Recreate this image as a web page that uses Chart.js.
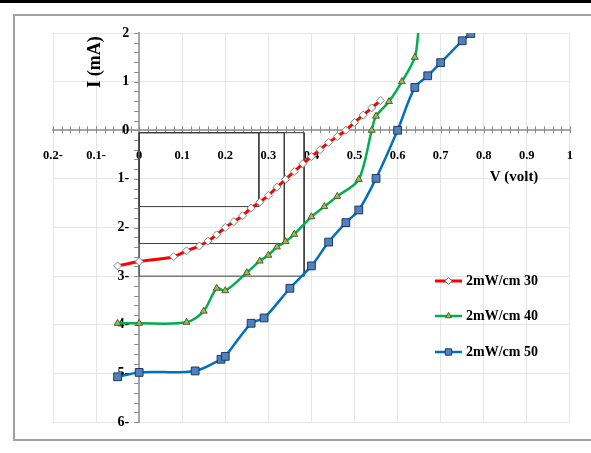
<!DOCTYPE html>
<html>
<head>
<meta charset="utf-8">
<script src="https://cdn.jsdelivr.net/npm/chart.js@4.4.0/dist/chart.umd.min.js"></script>
<style>
  html, body { margin: 0; padding: 0; background: #fff; }
  #wrap { position: relative; width: 591px; height: 453px; overflow: hidden; }
  #topRule { position: absolute; left: 0; top: 0; width: 591px; height: 3px; background: #000; }
  #frame { position: absolute; left: 13px; top: 14px; width: 640px; height: 423px; border: 2px solid #a0a0a0; }
  canvas { position: absolute; left: 0; top: 0; }
</style>
</head>
<body>
<div id="wrap">
  <div id="topRule"></div>
  <div id="frame"></div>
  <canvas id="ivChart" width="591" height="453"></canvas>
</div>
<script>
// I-V curves of the cell under three illumination levels
const v30 = [-0.05, 0, 0.08, 0.11, 0.14, 0.16, 0.18, 0.20, 0.22, 0.24, 0.26, 0.28, 0.30, 0.32, 0.34, 0.36, 0.38, 0.40, 0.42, 0.44, 0.46, 0.48, 0.50, 0.52, 0.54, 0.56];
const i30 = [-2.79, -2.70, -2.60, -2.48, -2.38, -2.28, -2.15, -2.00, -1.88, -1.76, -1.60, -1.48, -1.34, -1.17, -1.01, -0.85, -0.69, -0.54, -0.40, -0.25, -0.13, 0.0, 0.16, 0.31, 0.46, 0.61];

const v40 = [-0.05, 0, 0.11, 0.15, 0.18, 0.20, 0.25, 0.28, 0.30, 0.32, 0.34, 0.36, 0.40, 0.43, 0.46, 0.51, 0.54, 0.55, 0.58, 0.61, 0.64, 0.648];
const i40 = [-3.97, -3.97, -3.95, -3.72, -3.25, -3.30, -2.93, -2.69, -2.57, -2.40, -2.29, -2.14, -1.78, -1.57, -1.36, -1.01, 0.0, 0.29, 0.59, 1.0, 1.5, 2.0];

const v50 = [-0.05, 0, 0.13, 0.19, 0.20, 0.26, 0.29, 0.35, 0.40, 0.44, 0.48, 0.51, 0.55, 0.60, 0.64, 0.67, 0.70, 0.75, 0.77];
const i50 = [-5.07, -4.98, -4.95, -4.71, -4.65, -3.97, -3.86, -3.25, -2.79, -2.30, -1.90, -1.64, -0.99, 0.0, 0.88, 1.12, 1.39, 1.84, 1.99];

const seriesLabels = ['2mW/cm 30', '2mW/cm 40', '2mW/cm 50'];

// maximum power rectangles: corner at (Vm, Im)
const rectV = [0.278, 0.337, 0.383];
const rectI = [-1.57, -2.33, -3.0];
const rectTop = -0.05;

const xTickLabels = ['0.2-', '0.1-', '0', '0.1', '0.2', '0.3', '0.4', '0.5', '0.6', '0.7', '0.8', '0.9', '1'];
const yTickLabels = ['6-', '5-', '4-', '3-', '2-', '1-', '0', '1', '2'];

const serif = "'Liberation Serif', 'Times New Roman', serif";

function toPoints(vs, is) {
    return vs.map((v, k) => ({ x: v, y: is[k] }));
}

const curveStyles = [
    { color: '#ff0000', width: 3, pointStyle: 'rectRot', radius: 4, fill: '#ffffff', border: '#808080', legendRadius: 3.5 },
    { color: '#00b050', width: 2.5, pointStyle: 'triangle', radius: 4, fill: '#9bbb59', border: '#4e6128', legendRadius: 3.5 },
    { color: '#0070c0', width: 2.5, pointStyle: 'rect', radius: 5.5, fill: '#4f81bd', border: '#1f3864', legendRadius: 4.5 }
];

const curveData = [toPoints(v30, i30), toPoints(v40, i40), toPoints(v50, i50)];

const datasets = curveData.map((pts, k) => {
    const s = curveStyles[k];
    return {
        label: seriesLabels[k],
        data: pts,
        showLine: true,
        borderColor: s.color,
        borderWidth: s.width,
        tension: 0.3,
        pointStyle: s.pointStyle,
        pointRadius: ctx => (k === 1 && ctx.dataIndex === pts.length - 1) ? 0 : s.radius,
        pointBackgroundColor: s.fill,
        pointBorderColor: s.border,
        pointBorderWidth: 1,
        order: 1
    };
});

rectV.forEach((vm, k) => {
    datasets.push({
        label: 'rect' + k,
        data: [
            { x: 0, y: rectTop }, { x: vm, y: rectTop }, { x: vm, y: rectI[k] },
            { x: 0, y: rectI[k] }, { x: 0, y: rectTop }
        ],
        showLine: true,
        borderColor: '#3c3c3c',
        borderWidth: 1,
        pointRadius: 0,
        tension: 0,
        order: 5
    });
});

// minor tick marks, y labels beside the crossing axis, axis titles and the legend
const decor = {
    id: 'decor',
    beforeDatasetsDraw(chart) {
        const { ctx, scales: { x, y } } = chart;
        const x0 = x.getPixelForValue(0);
        const y0 = y.getPixelForValue(0);
        ctx.save();
        ctx.strokeStyle = '#8c8c8c';
        ctx.lineWidth = 1;
        ctx.beginPath();
        for (let k = -10; k <= 50; k++) {
            const px = Math.round(x.getPixelForValue(k * 0.02)) + 0.5;
            ctx.moveTo(px, y0 - 4);
            ctx.lineTo(px, y0 + 3);
        }
        for (let k = -30; k <= 10; k++) {
            const py = Math.round(y.getPixelForValue(k * 0.2)) + 0.5;
            ctx.moveTo(x0 - 5, py);
            ctx.lineTo(x0, py);
        }
        ctx.stroke();

        ctx.fillStyle = '#000';
        ctx.font = 'bold 14px ' + serif;
        ctx.textAlign = 'right';
        ctx.textBaseline = 'middle';
        y.ticks.forEach((t, i) => {
            ctx.fillText(yTickLabels[i], x0 - 10, y.getPixelForValue(t.value));
        });
        ctx.restore();
    },
    afterDraw(chart) {
        const { ctx } = chart;
        ctx.save();
        ctx.fillStyle = '#000';
        ctx.textBaseline = 'middle';

        ctx.font = 'bold 15px ' + serif;
        ctx.textAlign = 'center';
        ctx.fillText('V (volt)', 514, 177);

        ctx.save();
        ctx.translate(95, 62);
        ctx.rotate(-Math.PI / 2);
        ctx.font = 'bold 18px ' + serif;
        ctx.fillText('I (mA)', 0, 0);
        ctx.restore();

        const rows = [281, 316, 352];
        ctx.font = 'bold 14px ' + serif;
        ctx.textAlign = 'left';
        seriesLabels.forEach((label, k) => {
            const s = curveStyles[k];
            const yy = rows[k];
            ctx.strokeStyle = s.color;
            ctx.lineWidth = s.width;
            ctx.beginPath();
            ctx.moveTo(435, yy);
            ctx.lineTo(462, yy);
            ctx.stroke();
            ctx.fillStyle = s.fill;
            ctx.strokeStyle = s.border;
            ctx.lineWidth = 1;
            Chart.helpers.drawPoint(ctx, { pointStyle: s.pointStyle, radius: s.legendRadius, rotation: 0, borderWidth: 1 }, 448.5, yy);
            ctx.fillStyle = '#000';
            ctx.fillText(label, 466, yy);
        });
        ctx.restore();
    }
};

const ivCtx = document.getElementById('ivChart').getContext('2d');

new Chart(ivCtx, {
    type: 'scatter',
    data: { datasets },
    options: {
        responsive: false,
        animation: false,
        layout: { padding: { left: 53, top: 33, right: 14, bottom: 31 } },
        plugins: {
            legend: { display: false },
            tooltip: { enabled: false }
        },
        scales: {
            x: {
                type: 'linear',
                min: -0.2,
                max: 1,
                position: { y: 0 },
                afterFit: s => { s.height = 0; },
                grid: { color: '#e6e6e6', lineWidth: 1, drawTicks: false },
                border: { display: true, color: '#a6a6a6', width: 2 },
                ticks: {
                    stepSize: 0.1,
                    autoSkip: false,
                    maxRotation: 0,
                    padding: 18,
                    color: '#000',
                    font: { family: serif, size: 12.5, weight: 'bold' },
                    callback: (v, i) => xTickLabels[i]
                }
            },
            y: {
                type: 'linear',
                min: -6,
                max: 2,
                position: { x: 0 },
                afterFit: s => { s.width = 0; },
                grid: { color: '#e6e6e6', lineWidth: 1, drawTicks: false },
                border: { display: true, color: '#a6a6a6', width: 2 },
                ticks: { stepSize: 1, display: false }
            }
        }
    },
    plugins: [decor]
});
</script>
</body>
</html>
